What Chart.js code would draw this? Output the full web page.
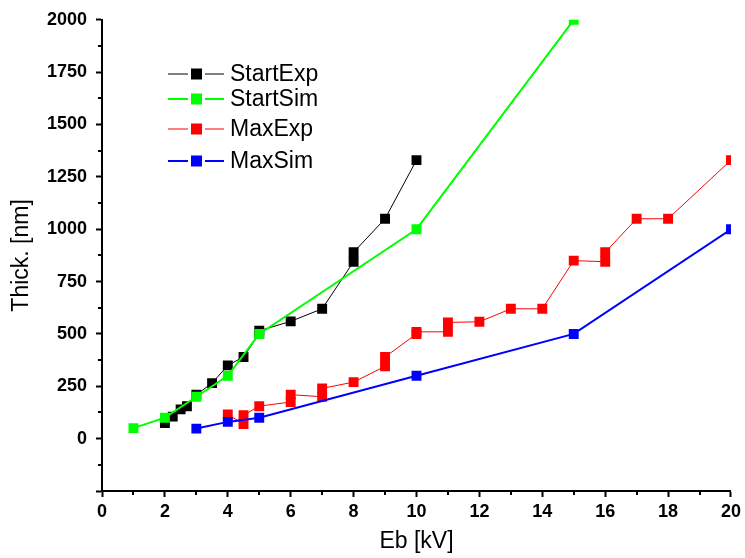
<!DOCTYPE html>
<html>
<head>
<meta charset="utf-8">
<script src="https://cdn.jsdelivr.net/npm/chart.js@4/dist/chart.umd.min.js"></script>
<style>
  body { margin: 0; background: #fff; }
  #wrap { width: 745px; height: 558px; }
</style>
</head>
<body>
<div id="wrap"><canvas id="chart"></canvas></div>
<script>
// values
const startExpX = [2, 2.25, 2.5, 2.7, 3, 3.5, 4, 4.5, 5, 5, 6, 7, 8, 8, 9, 10];
const startExpY = [75, 105, 140, 155, 210, 265, 350, 390, 500, 515, 560, 620, 845, 890, 1050, 1330];
const startSimX = [1, 2, 3, 4, 5, 10, 15];
const startSimY = [50, 100, 200, 300, 500, 1000, 2000];
const maxExpX = [4, 4.5, 4.5, 5, 6, 6, 7, 7, 8, 9, 9, 10, 10, 11, 11, 12, 13, 14, 15, 16, 16, 17, 18, 20];
const maxExpY = [115, 70, 112, 155, 175, 210, 200, 240, 270, 345, 390, 500, 510, 510, 555, 558, 620, 620, 850, 845, 890, 1050, 1050, 1330];
const maxSimX = [3, 4, 5, 10, 15, 20];
const maxSimY = [48, 80, 100, 300, 500, 1000];

const xMinor = [1, 3, 5, 7, 9, 11, 13, 15, 17, 19];
const yMinor = [-125, 125, 375, 625, 875, 1125, 1375, 1625, 1875];

const legendY = [74, 99, 129, 161];

function pairs(xs, ys) {
    return xs.map((x, i) => ({ x: x, y: ys[i] }));
}

function series(label, xs, ys, color, width, order) {
    return {
        label: label,
        data: pairs(xs, ys),
        borderColor: color,
        backgroundColor: color,
        borderWidth: width,
        pointStyle: 'rect',
        pointRadius: 7,
        pointBorderWidth: 0,
        pointBackgroundColor: color,
        tension: 0,
        clip: 0,
        order: order
    };
}

const minorTicks = {
    id: 'minorTicks',
    afterDraw(chart) {
        const ctx = chart.ctx;
        const x = chart.scales.x;
        const y = chart.scales.y;
        ctx.save();
        ctx.strokeStyle = '#000';
        ctx.lineWidth = 2;
        ctx.beginPath();
        xMinor.forEach(v => {
            const px = Math.round(x.getPixelForValue(v));
            ctx.moveTo(px, x.top);
            ctx.lineTo(px, x.top + 4);
        });
        yMinor.forEach(v => {
            const py = Math.round(y.getPixelForValue(v));
            ctx.moveTo(y.right, py);
            ctx.lineTo(y.right - 4, py);
        });
        ctx.stroke();
        ctx.restore();
    }
};

// legend drawn inside the plot, line - square - line like the original
const insideLegend = {
    id: 'insideLegend',
    afterDraw(chart) {
        const ctx = chart.ctx;
        ctx.save();
        ctx.font = '23px "Liberation Sans", Arial, sans-serif';
        ctx.textBaseline = 'middle';
        chart.data.datasets.forEach((ds, i) => {
            const yy = legendY[i];
            ctx.strokeStyle = ds.borderColor;
            ctx.lineWidth = ds.borderWidth;
            ctx.beginPath();
            ctx.moveTo(168, yy); ctx.lineTo(188, yy);
            ctx.moveTo(205, yy); ctx.lineTo(224, yy);
            ctx.stroke();
            ctx.fillStyle = ds.borderColor;
            ctx.fillRect(191, yy - 5.5, 11, 11);
            ctx.fillStyle = '#000';
            ctx.fillText(ds.label, 230, yy + 1);
        });
        ctx.restore();
    }
};

const tickFont = { family: '"Liberation Sans", Arial, sans-serif', size: 18, weight: 'bold' };
const titleFont = { family: '"Liberation Sans", Arial, sans-serif', size: 23 };

new Chart(document.getElementById('chart'), {
    type: 'line',
    data: {
        datasets: [
            series('StartExp', startExpX, startExpY, '#000000', 1, 2),
            series('StartSim', startSimX, startSimY, '#00ff00', 2, 1),
            series('MaxExp', maxExpX, maxExpY, '#ff0000', 1, 4),
            series('MaxSim', maxSimX, maxSimY, '#0000ff', 2, 3)
        ]
    },
    options: {
        responsive: true,
        maintainAspectRatio: false,
        animation: false,
        layout: { padding: { top: 17, right: 12, left: 0, bottom: 0 } },
        plugins: {
            legend: { display: false },
            tooltip: { enabled: false }
        },
        scales: {
            x: {
                type: 'linear',
                min: 0,
                max: 20,
                ticks: { stepSize: 2, color: '#000', font: tickFont, padding: 4, maxRotation: 0 },
                grid: { drawOnChartArea: false, drawTicks: true, tickLength: 6, tickWidth: 2, tickColor: '#000' },
                border: { display: true, color: '#000', width: 2 },
                title: { display: true, text: 'Eb [kV]', color: '#000', font: titleFont, padding: { top: 4, bottom: 3 } },
                afterFit(scale) { scale.height = 67; }
            },
            y: {
                type: 'linear',
                min: -250,
                max: 2000,
                ticks: {
                    stepSize: 250,
                    color: '#000',
                    font: tickFont,
                    padding: 9,
                    callback: v => (v >= 0 ? String(v) : '')
                },
                grid: { drawOnChartArea: false, drawTicks: true, tickLength: 6, tickWidth: 2, tickColor: '#000' },
                border: { display: true, color: '#000', width: 2 },
                title: { display: true, text: 'Thick. [nm]', color: '#000', font: titleFont, padding: { top: 8, bottom: 4 } },
                afterFit(scale) { scale.width = 102; }
            }
        }
    },
    plugins: [minorTicks, insideLegend]
});
</script>
</body>
</html>
